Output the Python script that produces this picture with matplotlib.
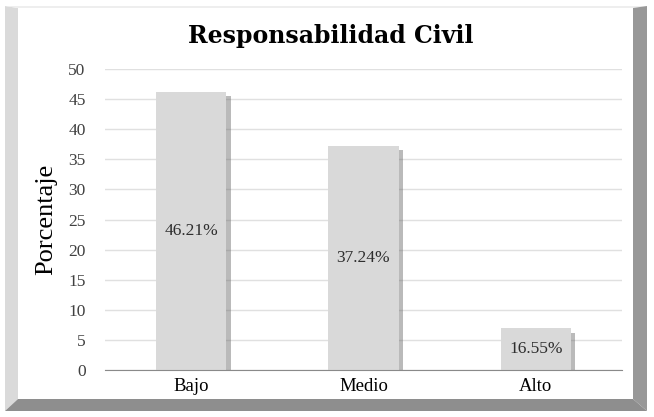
import matplotlib
matplotlib.use("Agg")
import matplotlib.pyplot as plt
import matplotlib.patheffects as pe
from matplotlib.patches import Polygon

# Data
categories = ["Bajo", "Medio", "Alto"]
values = [46.21, 37.24, 6.9]
value_labels = ["46.21%", "37.24%", "16.55%"]
yticks = [0, 5, 10, 15, 20, 25, 30, 35, 40, 45, 50]

W, H = 654, 417
fig = plt.figure(figsize=(W / 100, H / 100), dpi=100)
fig.patch.set_facecolor("white")

serif = ["Liberation Serif", "DejaVu Serif"]


def px(points):
    # pixel coords (top-left origin) -> figure fraction
    return [(x / W, 1 - y / H) for x, y in points]


# bevel frame
L, R, T, B = 5, 647, 6, 411
l, r, t, b = 18, 633, 8, 399
frame = [
    ([(L, T), (l, t), (l, b), (L, B)], "#dadada"),
    ([(L, T), (R, T), (r, t), (l, t)], "#eeeeee"),
    ([(R, T), (R, B), (r, b), (r, t)], "#989898"),
    ([(L, B), (R, B), (r, b), (l, b)], "#8e8e8e"),
]
for pts, col in frame:
    fig.patches.append(Polygon(px(pts), closed=True, transform=fig.transFigure,
                               facecolor=col, edgecolor="none", zorder=0))

ax = fig.add_axes([105 / W, 1 - 370 / H, (622 - 105) / W, (370 - 69) / H])
ax.set_facecolor("none")

x = range(len(categories))
bars = ax.bar(x, values, width=0.41, color="#d9d9d9", zorder=3)
for bar in bars:
    bar.set_path_effects([pe.SimplePatchShadow(offset=(3, -3), shadow_rgbFace="#666666", alpha=0.45),
                          pe.Normal()])

ax.bar_label(bars, labels=value_labels, label_type="center", fontsize=12.5,
             color="#2e2e2e", family=serif, zorder=4)

ax.set_xlim(-0.5, 2.5)
ax.set_ylim(0, 50)
ax.set_yticks(yticks)
ax.set_xticks(list(x))
ax.set_xticklabels(categories, family=serif, fontsize=13.5, color="black")
ax.tick_params(axis="y", labelsize=12.5, labelcolor="#404040", length=0, pad=14)
ax.tick_params(axis="x", length=0, pad=6)
for lab in ax.get_yticklabels():
    lab.set_family(serif)

ax.grid(axis="y", color="#e0e0e0", linewidth=1, zorder=0)
for s in ["top", "right", "left"]:
    ax.spines[s].set_visible(False)
ax.spines["bottom"].set_color("#8a8a8a")
ax.spines["bottom"].set_zorder(5)

ax.set_ylabel("Porcentaje", family=serif, fontsize=19, labelpad=8)

fig.text(331 / W, 1 - 36 / H, "Responsabilidad Civil", ha="center", va="center",
         fontsize=17, fontweight="bold", family=["DejaVu Serif"])

fig.savefig("out.png", dpi=100)
